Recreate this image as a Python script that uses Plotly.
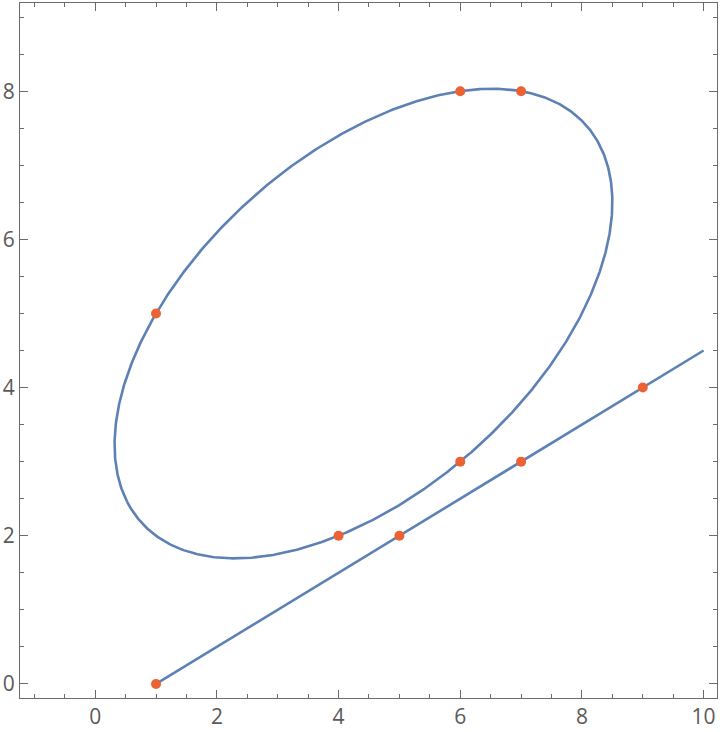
import numpy as np
import plotly.graph_objects as go

# Points the ellipse passes through
ellipse_x = [1, 4, 6, 6, 7]
ellipse_y = [5, 2, 3, 8, 8]
# Points on the straight line
line_pts_x = [1, 5, 7, 9]
line_pts_y = [0, 2, 3, 4]
line_end_x = [1, 10]
line_end_y = [0, 4.5]

# Conic through the five points
A = np.array([[x*x, x*y, y*y, x, y, 1.0] for x, y in zip(ellipse_x, ellipse_y)])
_, _, vt = np.linalg.svd(A)
a, b, c, d, e, f = vt[-1]
M = np.array([[a, b/2], [b/2, c]])
center = np.linalg.solve(2*M, [-d, -e])
k = -(a*center[0]**2 + b*center[0]*center[1] + c*center[1]**2 + d*center[0] + e*center[1] + f)
w, V = np.linalg.eigh(M)
t = np.linspace(0, 2*np.pi, 721)
r1 = np.sqrt(k / w[0]); r2 = np.sqrt(k / w[1])
pts = center[:, None] + V[:, [0]] * (r1*np.cos(t)) + V[:, [1]] * (r2*np.sin(t))

blue = "#5E81B5"
red = "#EB6235"
axcol = "#6b6b6b"

fig = go.Figure()
fig.add_trace(go.Scatter(x=pts[0], y=pts[1], mode="lines", line=dict(color=blue, width=2.6), hoverinfo="skip"))
fig.add_trace(go.Scatter(x=line_end_x, y=line_end_y, mode="lines", line=dict(color=blue, width=2.6), hoverinfo="skip"))
fig.add_trace(go.Scatter(x=ellipse_x + line_pts_x, y=ellipse_y + line_pts_y, mode="markers",
                         marker=dict(color=red, size=10)))

axis_common = dict(showgrid=False, zeroline=False, showline=True, linecolor=axcol, linewidth=1.2,
                   mirror="ticks", ticks="inside", ticklen=8, tickwidth=1.2, tickcolor=axcol,
                   tickfont=dict(family="Open Sans, DejaVu Sans", size=21, color="#5a5a5a"))
fig.update_xaxes(range=[-1.236, 10.22], tickvals=[0, 2, 4, 6, 8, 10],
                 minor=dict(dtick=0.5, tick0=0, ticks="inside", ticklen=4, tickcolor=axcol, tickwidth=1), **axis_common)
fig.update_yaxes(range=[-0.19, 9.19], tickvals=[0, 2, 4, 6, 8],
                 minor=dict(dtick=0.5, tick0=0, ticks="inside", ticklen=4, tickcolor=axcol, tickwidth=1), **axis_common)
fig.update_layout(width=720, height=732, margin=dict(l=20, r=2, t=3, b=31),
                  plot_bgcolor="white", paper_bgcolor="white", showlegend=False)
fig.write_html("out.html", config={"displayModeBar": False},
               post_script="document.body.style.margin='0';document.body.style.padding='0';")
